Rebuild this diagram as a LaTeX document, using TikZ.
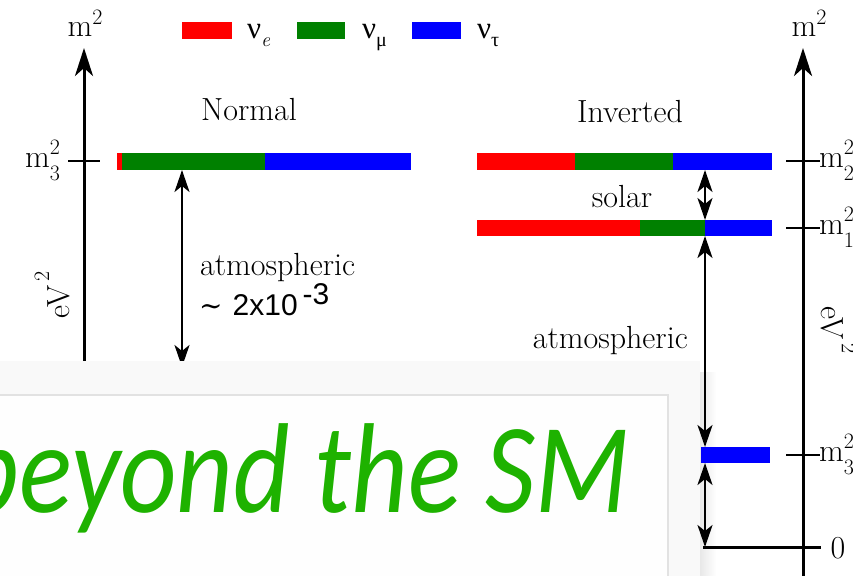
\documentclass[tikz,border=0pt]{standalone}
\usepackage{fontspec}
\newfontfamily\greekfont{Liberation Serif}
\newfontfamily\numfont{Liberation Sans}
\newfontfamily\symfont{DejaVu Serif}
\newfontfamily\bsmfont[FakeStretch=0.86]{Carlito}
\usetikzlibrary{arrows.meta}
\definecolor{nred}{RGB}{255,0,0}
\definecolor{ngreen}{RGB}{0,128,0}
\definecolor{nblue}{RGB}{0,0,255}
\definecolor{bsmgreen}{RGB}{30,178,0}
\definecolor{ovgray}{RGB}{249,249,249}
\definecolor{boxgray}{RGB}{226,226,226}
\definecolor{boxfill}{RGB}{254,254,254}
\newcommand\supsz{\fontsize{22}{22}\selectfont}
\newcommand\msq{m\raisebox{12pt}{\supsz 2}}
\newcommand\msqsub[1]{m\rlap{\raisebox{13pt}{\supsz 2}}\raisebox{-13pt}{\supsz #1}}
\newcommand\evsq{eV\hspace{4pt}\raisebox{20pt}{\supsz 2}}
\tikzset{
  lbl/.style={inner sep=0pt, font=\fontsize{32}{38}\selectfont},
  axisline/.style={line width=3pt, -{Stealth[length=28pt,width=18pt,inset=8pt]}},
  tickline/.style={line width=2.2pt},
  dblarrow/.style={line width=2.4pt, {Stealth[length=22pt,width=15pt,inset=6pt]}-{Stealth[length=22pt,width=15pt,inset=6pt]}},
  legtxt/.style={inner sep=0pt, anchor=base west, font=\fontsize{31}{34}\selectfont\greekfont}
}
\begin{document}
\begin{tikzpicture}[x=1pt,y=-1pt]
\clip (0,0) rectangle (853,575);
\fill[white] (0,0) rectangle (853,575);

% legend
\fill[nred] (182,22) rectangle (232,39);
\node[legtxt] (le) at (247,39) {ν\raisebox{-8pt}{\fontsize{20}{20}\selectfont\rmfamily\itshape e}};
\fill[ngreen] (297,22) rectangle (345,39);
\node[legtxt] (lm) at (362,39) {ν\raisebox{-8pt}{\fontsize{20}{20}\selectfont μ}};
\fill[nblue] (412,22) rectangle (461,39);
\node[legtxt] (lt) at (477,39) {ν\raisebox{-8pt}{\fontsize{20}{20}\selectfont τ}};

% axes
\coordinate (LAbot) at (84,600);
\coordinate (LAtop) at (84,48);
\draw[axisline] (LAbot) -- (LAtop);
\coordinate (RAbot) at (803,600);
\coordinate (RAtop) at (803,48);
\draw[axisline] (RAbot) -- (RAtop);
\node[lbl, anchor=base] (m2l) at (85,37) {\msq};
\node[lbl, anchor=base] (m2r) at (809,37) {\msq};

% ticks
\coordinate (tl1) at (68,161); \coordinate (tl2) at (100,161);
\draw[tickline] (tl1) -- (tl2);
\node[lbl, anchor=base west] (m3l) at (25,167) {\msqsub{3}};
\coordinate (tr1a) at (786,161); \coordinate (tr1b) at (820,161);
\draw[tickline] (tr1a) -- (tr1b);
\coordinate (tr2a) at (786,228); \coordinate (tr2b) at (820,228);
\draw[tickline] (tr2a) -- (tr2b);
\coordinate (tr3a) at (786,455); \coordinate (tr3b) at (820,455);
\draw[tickline] (tr3a) -- (tr3b);
\node[lbl, anchor=base west] (m2lab) at (819,167) {\msqsub{2}};
\node[lbl, anchor=base west] (m1lab) at (819,234) {\msqsub{1}};
\node[lbl, anchor=base west] (m3lab) at (819,461) {\msqsub{3}};
\node[lbl] (zero) at (838,548) {0};

% axis units
\node[lbl, rotate=90] (evl) at (52,295) {\evsq};
\node[lbl, rotate=-90] (evr) at (839,330) {\evsq};

% normal bar
\fill[nred] (117,153) rectangle (122,170);
\fill[ngreen] (122,153) rectangle (265,170);
\fill[nblue] (265,153) rectangle (411,170);
\node[lbl, anchor=base] (normal) at (249,121) {Normal};

% left atmospheric arrow
\coordinate (na1) at (182,170); \coordinate (na2) at (182,367);
\draw[dblarrow] (na2) -- (na1);
\node[lbl, anchor=base west] (atmn) at (200,275) {atmospheric};
\node[lbl, anchor=base west] (atmv) at (199,315) {{\symfont\fontsize{28}{30}\selectfont ∼}\hspace{10pt}{\numfont\fontsize{30}{34}\selectfont 2x10\hspace{5pt}\raisebox{11pt}{-3}}};

% overlay
\fill[ovgray] (0,361) rectangle (700,580);
\fill[boxfill, draw=boxgray, line width=1.2pt] (-5,395) rectangle (668,590);
\node[inner sep=0pt, anchor=base east, text=bsmgreen, font=\fontsize{128}{140}\selectfont\bsmfont\itshape] (bsm) at (630,512) {beyond the SM};
\shade[left color=black!22, right color=white, opacity=0.4] (700,372) rectangle (716,580);

% zero line
\coordinate (zeroa) at (703,547); \coordinate (zerob) at (821,547);
\draw[line width=3pt] (zeroa) -- (zerob);

% inverted bars
\fill[nred] (477,153) rectangle (575,170);
\fill[ngreen] (575,153) rectangle (673,170);
\fill[nblue] (673,153) rectangle (772,170);
\fill[nred] (477,220) rectangle (640,236);
\fill[ngreen] (640,220) rectangle (705,236);
\fill[nblue] (705,220) rectangle (772,236);
\fill[nblue] (701,447) rectangle (770,463);
\node[lbl, anchor=base] (inverted) at (630,122) {Inverted};
\node[lbl, anchor=base] (solar) at (622,207) {solar};

% inverted arrows
\coordinate (s1) at (705,170); \coordinate (s2) at (705,220);
\draw[dblarrow] (s1) -- (s2);
\coordinate (a1) at (705,236); \coordinate (a2) at (705,447);
\draw[dblarrow] (a1) -- (a2);
\node[lbl, anchor=base east] (atmi) at (688,348) {atmospheric};
\coordinate (b1) at (705,463); \coordinate (b2) at (705,547);
\draw[dblarrow] (b1) -- (b2);
\end{tikzpicture}
\end{document}
